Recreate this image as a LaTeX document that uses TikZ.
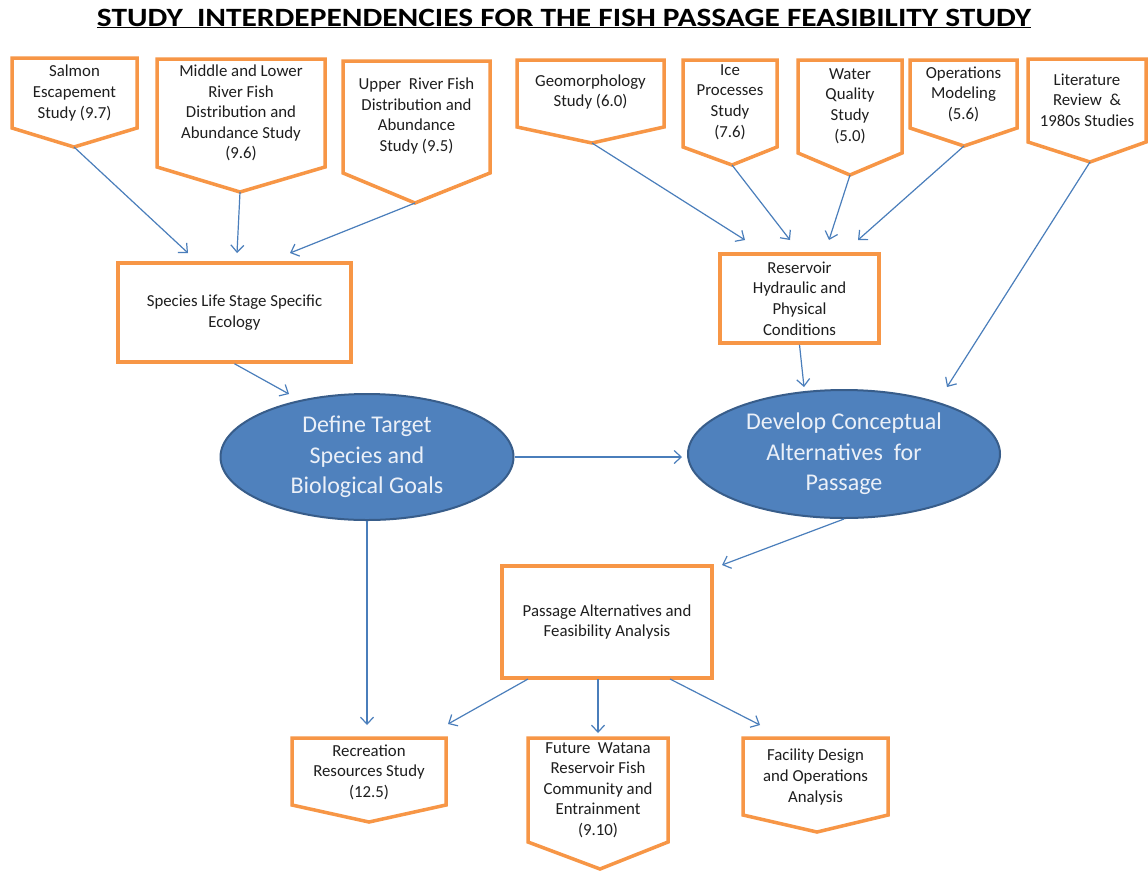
\documentclass[tikz,border=0pt]{standalone}
\usepackage{fontspec}
\setmainfont{Carlito}
\usetikzlibrary{arrows.meta,shapes.geometric}
\definecolor{orng}{RGB}{247,150,70}
\definecolor{arrblue}{RGB}{74,126,187}
\definecolor{ellfill}{RGB}{79,129,189}
\definecolor{elldraw}{RGB}{56,93,138}
\definecolor{elltext}{RGB}{235,240,248}
\definecolor{txt}{RGB}{30,30,30}
% name, x1, x2, ytop, yside, xtip, ytip, ytext, text
\newcommand\pentbox[9]{%
  \draw[pent] (#2,#4) -- (#3,#4) -- (#3,#5) -- (#6,#7) -- (#2,#5) -- cycle;
  \node[boxtext] (#1) at ({(#2+#3)/2},#8) {#9};
  \coordinate (#1-tip) at (#6,#7);
}
\begin{document}
\begin{tikzpicture}[x=1pt,y=-1pt,
  pent/.style={draw=orng,line width=3.5pt,fill=white,line join=miter},
  boxtext/.style={align=center,text=txt,font=\fontsize{16.8}{20.6}\selectfont,inner sep=0pt},
  rectbox/.style={draw=orng,line width=3.5pt,fill=white,rectangle,inner sep=0pt,align=center,text=txt,font=\fontsize{16.8}{20.6}\selectfont},
  ell/.style={ellipse,draw=elldraw,line width=2pt,fill=ellfill,inner sep=0pt,align=center,text=elltext,font=\fontsize{24}{30.5}\selectfont},
  arr/.style={draw=arrblue,line width=1.2pt,-{Straight Barb[length=7pt,width=13pt]}}]
\fill[white] (0,0) rectangle (1148,871);
\useasboundingbox (0,0) rectangle (1148,871);

\node[font=\bfseries\fontsize{26.4}{30}\selectfont,text=black,anchor=base,inner sep=0pt] (title) at (564,26)
  {\scalebox{1.19}[1]{\underline{STUDY\ \ INTERDEPENDENCIES FOR THE FISH PASSAGE FEASIBILITY STUDY}}};

% top row
\pentbox{salmon}{12}{137}{58}{128}{74}{147}{93}{Salmon\\Escapement\\Study (9.7)}
\pentbox{middle}{157}{325}{59}{167}{240}{192}{113}{Middle and Lower\\River Fish\\Distribution and\\Abundance Study\\(9.6)}
\pentbox{upper}{343}{490}{61}{173}{415}{203}{116}{Upper\ \ River Fish\\Distribution and\\Abundance\\Study (9.5)}
\pentbox{geo}{517}{664}{60}{127}{592}{143}{92}{Geomorphology\\Study (6.0)}
\pentbox{ice}{683}{777}{60}{147}{732}{165}{102}{Ice\\Processes\\Study\\(7.6)}
\pentbox{water}{798}{902}{60}{153}{850}{175}{106}{Water\\Quality\\Study\\(5.0)}
\pentbox{ops}{910}{1017}{60}{128}{964}{146}{94}{Operations\\Modeling\\(5.6)}
\pentbox{lit}{1028}{1146}{59}{142}{1090}{162}{100}{Literature\\Review\ \ \&\\1980s Studies}

% bottom row
\pentbox{recr}{292}{446}{738}{805}{369}{822}{772}{Recreation\\Resources Study\\(12.5)}
\pentbox{future}{528}{668}{738}{842}{600}{869}{790}{Future\ \ Watana\\Reservoir Fish\\Community and\\Entrainment\\(9.10)}
\pentbox{facility}{743}{888}{738}{815}{817}{832}{777}{Facility Design\\and Operations\\Analysis}

% rectangles
\node[rectbox,minimum width=233pt,minimum height=99pt] (species) at (234.5,312.5) {Species Life Stage Specific\\Ecology};
\node[rectbox,minimum width=159pt,minimum height=89pt] (reservoir) at (799.5,298.5) {Reservoir\\Hydraulic and\\Physical\\Conditions};
\node[rectbox,minimum width=210pt,minimum height=112pt] (passage) at (607,622) {Passage Alternatives and\\Feasibility Analysis};

% ellipses
\node[ell,minimum width=293pt,minimum height=126pt] (define) at (367,457) {Define Target\\Species and\\Biological Goals};
\node[ell,minimum width=312pt,minimum height=128pt] (develop) at (844,454) {Develop Conceptual\\Alternatives\ \ for\\Passage};

% connector end coordinates
\coordinate (salmon-end) at (188,253);
\coordinate (middle-end) at (237,253);
\coordinate (upper-end) at (290,253);
\coordinate (geo-end) at (745,240);
\coordinate (ice-end) at (790,240);
\coordinate (water-end) at (829,240);
\coordinate (ops-end) at (858,240);
\coordinate (lit-end) at (947,387);
\coordinate (species-end) at (289,394);
\coordinate (reservoir-end) at (804,387);
\coordinate (define-end) at (682,457);
\coordinate (develop-end) at (722,565);
\coordinate (recr-end) at (367,725);
\coordinate (p1-start) at (528,679);
\coordinate (p1-end) at (448,724);
\coordinate (p2-start) at (598,679);
\coordinate (p2-end) at (598,733);
\coordinate (p3-start) at (670,679);
\coordinate (p3-end) at (760,725);

% connectors
\draw[arr] (salmon-tip) -- (salmon-end);
\draw[arr] (middle-tip) -- (middle-end);
\draw[arr] (upper-tip) -- (upper-end);
\draw[arr] (geo-tip) -- (geo-end);
\draw[arr] (ice-tip) -- (ice-end);
\draw[arr] (water-tip) -- (water-end);
\draw[arr] (ops-tip) -- (ops-end);
\draw[arr] (lit-tip) -- (lit-end);
\draw[arr] (species.south) -- (species-end);
\draw[arr] (reservoir.south) -- (reservoir-end);
\draw[arr] (define.east) -- (define-end);
\draw[arr] (define.south) -- (recr-end);
\draw[arr] (develop.south) -- (develop-end);
\draw[arr] (p1-start) -- (p1-end);
\draw[arr] (p2-start) -- (p2-end);
\draw[arr] (p3-start) -- (p3-end);
\end{tikzpicture}
\end{document}
